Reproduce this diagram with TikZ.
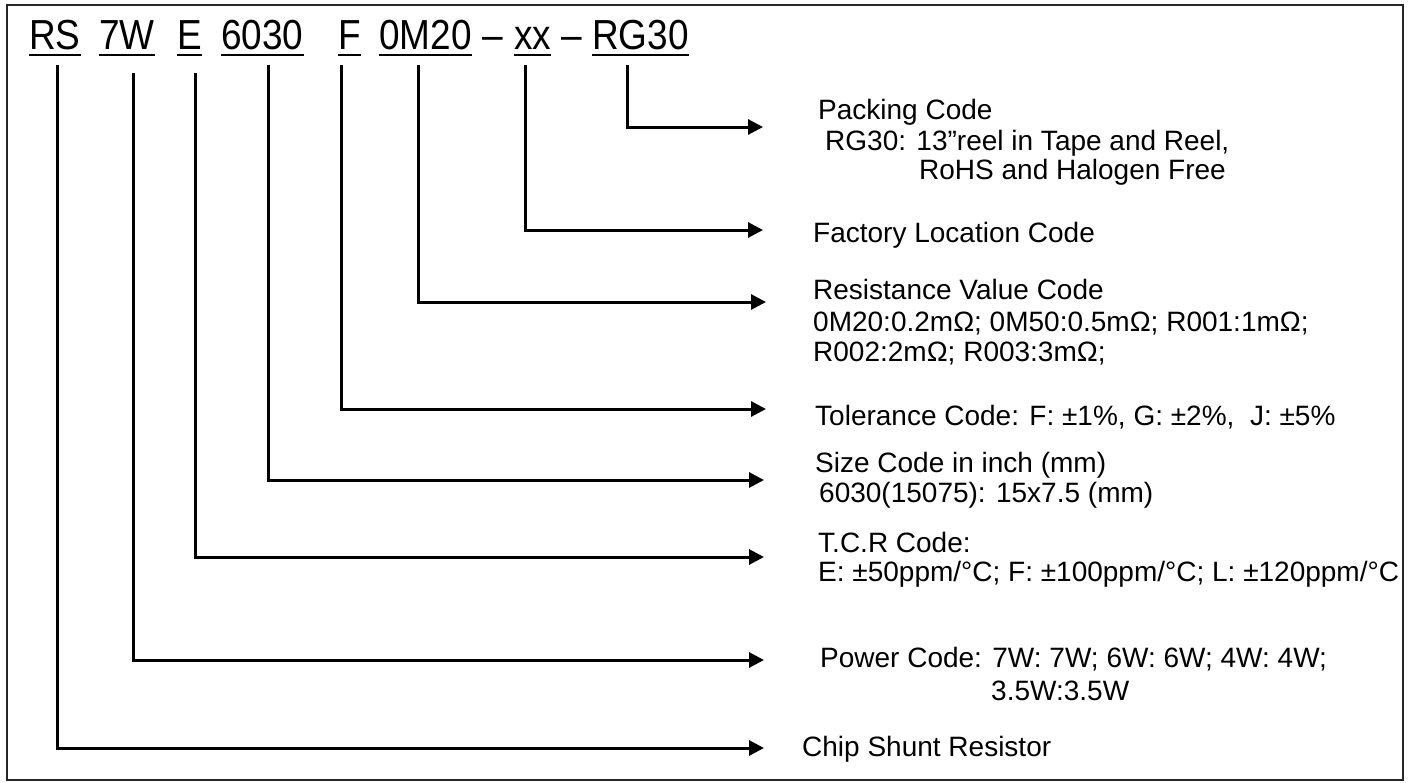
\documentclass[tikz,border=0pt]{standalone}
\usepackage{fontspec}
\setmainfont{Liberation Sans}
\newfontfamily\codefont[FakeStretch=0.88]{Liberation Sans}
\usetikzlibrary{arrows.meta}

\begin{document}
\begin{tikzpicture}[
    x = 1pt, y = -1pt,
    codetext/.style = {
        anchor=base west, inner sep=0pt,
        font=\codefont\fontsize{42}{42}\selectfont
    },
    labeltext/.style = {
        anchor=base west, inner sep=0pt,
        font=\fontsize{28}{32}\selectfont
    },
    uline/.style = {line width=2.8pt},
    conn/.style = {line width=3pt, -{Triangle[length=15pt, width=15pt]}},
    frame/.style = {line width=1.6pt, draw=black!85},
]

\useasboundingbox (0,0) rectangle (1411,782);
\draw[frame] (7,5) rectangle (1403,780);

% Part number
\node[codetext] (cChip) at (29,49)  {RS};
\node[codetext] (cPow)  at (99,49)  {7W};
\node[codetext] (cTCR)  at (177,49) {E};
\node[codetext] (cSize) at (221,49) {6030};
\node[codetext] (cTol)  at (338,49) {F};
\node[codetext] (cRes)  at (379,49) {0M20};
\node[codetext] (dashA) at (482,49) {–};
\node[codetext] (cFac)  at (514,49) {xx};
\node[codetext] (dashB) at (561,49) {–};
\node[codetext] (cPack) at (592,49) {RG30};

% Underlines
\foreach \n in {cChip, cPow, cTCR, cSize, cTol, cRes, cFac, cPack}
    \draw[uline] ([yshift=-6pt]\n.base west) -- ([yshift=-6pt]\n.base east);

% Descriptions
\node[labeltext] (lPack)  at (818,119) {Packing Code};
\node[labeltext] (lPackA) at (825,150) {RG30: 13”reel in Tape and Reel,};
\node[labeltext] (lPackB) at (919,179) {RoHS and Halogen Free};

\node[labeltext] (lFac)   at (813,242) {Factory Location Code};

\node[labeltext] (lRes)   at (813,299) {Resistance Value Code};
\node[labeltext] (lResA)  at (813,331) {0M20:0.2mΩ; 0M50:0.5mΩ; R001:1mΩ;};
\node[labeltext] (lResB)  at (813,361) {R002:2mΩ; R003:3mΩ;};

\node[labeltext] (lTol)   at (815,425) {Tolerance Code: F: ±1\%, G: ±2\%,\ \ J: ±5\%};

\node[labeltext] (lSize)  at (815,472) {Size Code in inch (mm)};
\node[labeltext] (lSizeA) at (819,502) {6030(15075): 15x7.5 (mm)};

\node[labeltext] (lTCR)   at (818,552) {T.C.R Code:};
\node[labeltext] (lTCRA)  at (818,581) {E: ±50ppm/°C; F: ±100ppm/°C; L: ±120ppm/°C};

\node[labeltext] (lPow)   at (820,667) {Power Code: 7W: 7W; 6W: 6W; 4W: 4W;};
\node[labeltext] (lPowA)  at (991,700) {3.5W:3.5W};

\node[labeltext] (lChip)  at (802,756) {Chip Shunt Resistor};

% Arrow tips
\coordinate (tPack) at (763,127);
\coordinate (tFac)  at (763,230);
\coordinate (tRes)  at (766,302);
\coordinate (tTol)  at (766,409);
\coordinate (tSize) at (764,480);
\coordinate (tTCR)  at (764,557);
\coordinate (tPow)  at (764,660);
\coordinate (tChip) at (764,748);

% Connectors
\draw[conn] ([xshift=35pt,yshift=-16pt]cPack.base west) |- (tPack);
\draw[conn] ([xshift=11pt,yshift=-16pt]cFac.base west)  |- (tFac);
\draw[conn] ([xshift=39pt,yshift=-16pt]cRes.base west)  |- (tRes);
\draw[conn] ([xshift=3pt,yshift=-16pt]cTol.base west)   |- (tTol);
\draw[conn] ([xshift=47pt,yshift=-16pt]cSize.base west) |- (tSize);
\draw[conn] ([xshift=18pt,yshift=-24pt]cTCR.base west)  |- (tTCR);
\draw[conn] ([xshift=34pt,yshift=-24pt]cPow.base west)  |- (tPow);
\draw[conn] ([xshift=28pt,yshift=-16pt]cChip.base west) |- (tChip);

\end{tikzpicture}
\end{document}
